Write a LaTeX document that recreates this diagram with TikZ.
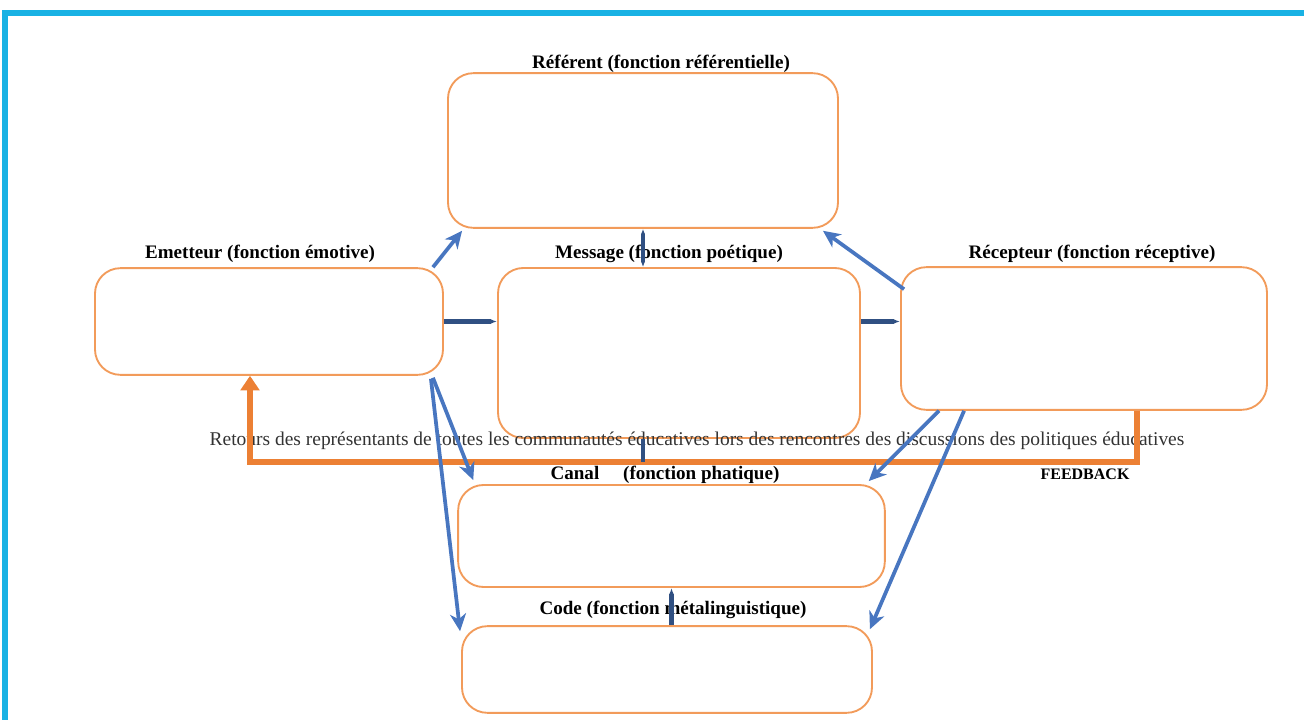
\documentclass[tikz,border=0pt]{standalone}
\usepackage{fontspec}
\setmainfont{Liberation Serif}
\usetikzlibrary{arrows.meta,calc}

\definecolor{cadre}{RGB}{25,178,228}
\definecolor{bord}{RGB}{242,155,90}
\definecolor{fleche}{RGB}{72,118,192}
\definecolor{fonce}{RGB}{48,80,130}
\definecolor{retour}{RGB}{236,128,52}

\tikzset{every picture/.style={line width=0.75pt}}
\tikzset{
  fonction/.style={draw=bord, line width=1.4pt, rounded corners=19pt, fill=white, inner sep=0pt},
  titre/.style={font=\fontsize{14.3}{16}\selectfont\bfseries, inner sep=1pt},
  lien/.style={draw=fleche, line width=2.8pt, -{Stealth[length=13pt,width=12pt,inset=4pt]}},
  court/.style={draw=fonce, line width=3.4pt},
}

\begin{document}
\begin{tikzpicture}[x=0.75pt,y=0.75pt,yscale=-1,xscale=1]
\useasboundingbox (0,0) rectangle (1304,720);

%Frame
\draw [cadre, line width=4pt] (5,720) -- (5,13) -- (1304,13) ;

%Rounded Rect
\node [fonction, minimum width=292.5pt, minimum height=116pt] (ref) at (643,150.5) {};
\node [fonction, minimum width=261pt, minimum height=80pt] (emet) at (269,321.5) {};
\node [fonction, minimum width=271.5pt, minimum height=127.5pt] (msg) at (679,353) {};
\node [fonction, minimum width=274.5pt, minimum height=107pt] (rec) at (1084,338.5) {};
\node [fonction, minimum width=320pt, minimum height=76.5pt] (canal) at (671.5,536) {};
\node [fonction, minimum width=307.5pt, minimum height=65pt] (code) at (667,669.5) {};

%Labels
\node [titre] (reflbl) at (661,64) {Référent (fonction référentielle)};
\node [titre] (emetlbl) at (260,254) {Emetteur (fonction émotive)};
\node [titre] (msglbl) at (669,254) {Message (fonction poétique)};
\node [titre] (reclbl) at (1092,254) {Récepteur (fonction réceptive)};
\node [titre] (canallbl) at (665,475) {Canal\quad\ (fonction phatique)};
\node [titre] (codelbl) at (673,610) {Code (fonction métalinguistique)};
\node [titre, font=\fontsize{12}{14}\selectfont\bfseries] (fblbl) at (1085,474) {FEEDBACK};
\node [font=\fontsize{14.6}{16}\selectfont, text=black!80, inner sep=1pt] (fbtxt) at (697,441) {Retours des représentants de toutes les communautés éducatives lors des rencontres des discussions des politiques éducatives};

%Feedback
\coordinate (fb1) at (1137,462);
\coordinate (fb2) at (250,462);
\draw [retour, line width=4.5pt, -{Triangle[length=11pt,width=14pt]}] (rec.south -| fb1) -- (fb1) -- (fb2) -- (emet.south -| fb2) ;

%Straight Lines
\draw [court, {Latex[length=4pt]}-{Latex[length=4pt]}] (ref.south) -- (ref.south |- msg.north) ;
\draw [court, -{Latex[length=5pt]}] (emet.east) -- (emet.east -| msg.west) ;
\draw [court, -{Latex[length=5pt]}] (emet.east -| msg.east) -- (emet.east -| rec.west) ;
\draw [court] (ref.south |- msg.south) -- (ref.south |- fb2) ;
\draw [court, -{Latex[length=5pt]}] (canal.south |- code.north) -- (canal.south) ;

%Arrows
\draw [lien] ($(emet.north east)+(-11,0)$) -- ($(ref.south west)+(15,2)$) ;
\draw [lien] ($(rec.north west)+(4,23)$) -- ($(ref.south east)+(-16,2)$) ;
\draw [lien] ($(emet.south east)+(-11,2)$) -- ($(canal.north west)+(16,-4)$) ;
\draw [lien] ($(emet.south east)+(-13,3)$) -- ($(code.north west)+(-1,6)$) ;
\draw [lien] ($(rec.south west)+(39,0)$) -- ($(canal.north east)+(-17,-3)$) ;
\draw [lien] ($(rec.south west)+(64,0)$) -- ($(code.north east)+(-3,4)$) ;

\end{tikzpicture}
\end{document}
